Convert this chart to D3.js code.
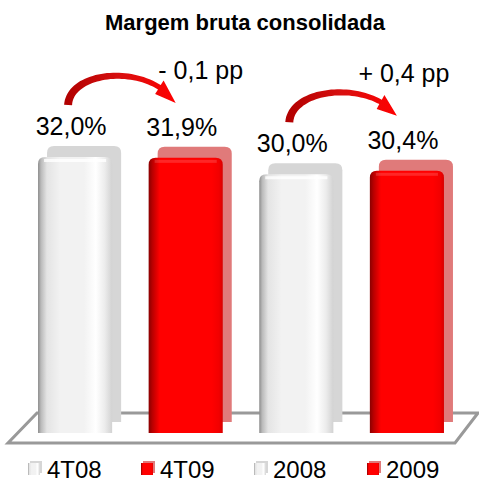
<!DOCTYPE html>
<html>
<head>
<meta charset="utf-8">
<script src="https://cdn.jsdelivr.net/npm/d3@7"></script>
<style>
	html, body { margin: 0; background: #fff; }
	svg { display: block; font-family: "Liberation Sans", Arial, sans-serif; }
</style>
</head>
<body>
<svg id="chart" width="479" height="484"></svg>
<script>
// data
const categories = ['4T08', '4T09', '2008', '2009']
const values = [32.0, 31.9, 30.0, 30.4]
const valueLabels = ['32,0%', '31,9%', '30,0%', '30,4%']
const barKind = ['white', 'red', 'white', 'red']
const deltaFrom = [0, 2]
const deltaTo = [1, 3]
const deltaLabels = ['- 0,1 pp', '+ 0,4 pp']
const title = 'Margem bruta consolidada'

const svg = d3.select('#chart')
const defs = svg.append('defs')

// gradients for the fake 3d look
function hGrad(id, stops) {
	const g = defs.append('linearGradient').attr('id', id).attr('x1', 0).attr('x2', 1).attr('y1', 0).attr('y2', 0)
	stops.forEach(([o, c]) => g.append('stop').attr('offset', o).attr('stop-color', c))
}
hGrad('whiteFront', [[0, '#8c8c8c'], [0.04, '#bababa'], [0.12, '#e4e4e4'], [0.3, '#f2f2f2'], [0.62, '#f2f2f2'], [0.78, '#ffffff'], [0.9, '#ececec'], [1, '#d2d2d2']])
hGrad('redFront', [[0, '#8a0000'], [0.05, '#b80000'], [0.15, '#ff0000'], [0.85, '#ff0000'], [0.95, '#f20000'], [1, '#d80000']])
hGrad('arrowGrad', [[0, '#b00000'], [0.5, '#d81010'], [1, '#ff0000']])
const sideFill = {white: '#d6d6d6', red: '#e07a7a'}
const frontFill = {white: 'url(#whiteFront)', red: 'url(#redFront)'}

const x = d3.scaleBand().domain(categories).range([20, 462]).paddingInner(0.33).paddingOuter(0.163)
const y = d3.scaleLinear().domain([0, 32]).range([433, 157])
const bw = x.bandwidth()
const depthX = 9, depthY = -11
const cx = c => x(c) + bw / 2

// title
svg.append('text').attr('x', 245).attr('y', 30).attr('text-anchor', 'middle')
	.attr('font-weight', 'bold').attr('font-size', 22).text(title)

// floor
const fl = 8, fr = 455, ff = 443, fb = 413
svg.append('path')
	.attr('d', `M${fl},${ff}L${fr},${ff}L${fr + 23},${fb}L${fl + 29},${fb}Z`)
	.attr('fill', '#fff').attr('stroke', '#999').attr('stroke-width', 3)

function roundTop(x0, y0, w, h, r) {
	return `M${x0},${y0 + h}V${y0 + r}Q${x0},${y0} ${x0 + r},${y0}H${x0 + w - r}Q${x0 + w},${y0} ${x0 + w},${y0 + r}V${y0 + h}Z`
}

const bars = svg.append('g').selectAll('g').data(categories).join('g')
bars.append('path')
	.attr('d', (c, i) => roundTop(x(c) + depthX, y(values[i]) + depthY, bw, y(0) - y(values[i]), 7))
	.attr('fill', (c, i) => sideFill[barKind[i]])
bars.append('path')
	.attr('d', (c, i) => roundTop(x(c), y(values[i]), bw, y(0) - y(values[i]), 7))
	.attr('fill', (c, i) => frontFill[barKind[i]])
bars.append('rect')
	.attr('x', c => x(c) + 6).attr('y', (c, i) => y(values[i]) + 2)
	.attr('width', bw - 12).attr('height', 3)
	.attr('fill', '#fff').attr('opacity', (c, i) => barKind[i] === 'white' ? 0.8 : 0.15)

// value labels
svg.append('g').selectAll('text').data(categories).join('text')
	.attr('x', c => cx(c) - 4)
	.attr('y', (c, i) => y(values[i]) - 22)
	.attr('text-anchor', 'middle').attr('font-size', 25)
	.text((c, i) => valueLabels[i])

// curved arrows
function arrowPath(p0, p1, p2, p3, w0, w1, headW, tEnd) {
	const bez = t => {
		const u = 1 - t
		return [u * u * u * p0[0] + 3 * u * u * t * p1[0] + 3 * u * t * t * p2[0] + t * t * t * p3[0],
			u * u * u * p0[1] + 3 * u * u * t * p1[1] + 3 * u * t * t * p2[1] + t * t * t * p3[1]]
	}
	const der = t => {
		const u = 1 - t
		return [3 * u * u * (p1[0] - p0[0]) + 6 * u * t * (p2[0] - p1[0]) + 3 * t * t * (p3[0] - p2[0]),
			3 * u * u * (p1[1] - p0[1]) + 6 * u * t * (p2[1] - p1[1]) + 3 * t * t * (p3[1] - p2[1])]
	}
	const norm = t => {
		const d = der(t), l = Math.hypot(d[0], d[1])
		return [-d[1] / l, d[0] / l]
	}
	const left = [], right = []
	const N = 40
	for (let i = 0; i <= N; i++) {
		const t = tEnd * i / N, p = bez(t), n = norm(t), w = w0 + (w1 - w0) * i / N
		left.push([p[0] + n[0] * w / 2, p[1] + n[1] * w / 2])
		right.push([p[0] - n[0] * w / 2, p[1] - n[1] * w / 2])
	}
	const b = bez(tEnd), n = norm(tEnd)
	const pts = [...left,
		[b[0] + n[0] * headW / 2, b[1] + n[1] * headW / 2],
		p3,
		[b[0] - n[0] * headW / 2, b[1] - n[1] * headW / 2],
		...right.reverse()]
	return 'M' + pts.map(p => p[0].toFixed(1) + ',' + p[1].toFixed(1)).join('L') + 'Z'
}

const deltaDx = [25, 7], deltaDy = [-24, -34]
deltaLabels.forEach((lab, k) => {
	const a = categories[deltaFrom[k]], b = categories[deltaTo[k]]
	const p0 = [cx(a) - 7, y(values[deltaFrom[k]]) - 52]
	const p3 = [cx(b) - 10, y(values[deltaTo[k]]) - 55]
	const p1 = [p0[0] + 2, p0[1] - 35]
	const p2 = [p0[0] + 0.75 * (p3[0] - p0[0]), p0[1] - 42]
	svg.append('path').attr('d', arrowPath(p0, p1, p2, p3, 8, 5, 16, 0.84))
		.attr('fill', 'url(#arrowGrad)')
	svg.append('text').attr('x', p3[0] + deltaDx[k]).attr('y', p3[1] + deltaDy[k])
		.attr('text-anchor', 'middle').attr('font-size', 25).text(lab)
})

// legend
const lx = d3.scaleBand().domain(categories).range([28, 480])
const leg = svg.append('g').selectAll('g').data(categories).join('g')
	.attr('transform', c => `translate(${lx(c)},463)`)
leg.append('rect').attr('x', 2).attr('y', -2).attr('width', 12).attr('height', 12)
	.attr('fill', (c, i) => sideFill[barKind[i]])
leg.append('rect').attr('width', 12).attr('height', 12)
	.attr('fill', (c, i) => frontFill[barKind[i]])
leg.append('text').attr('x', 19).attr('y', 15).attr('font-size', 24).text(c => c)
</script>
</body>
</html>
